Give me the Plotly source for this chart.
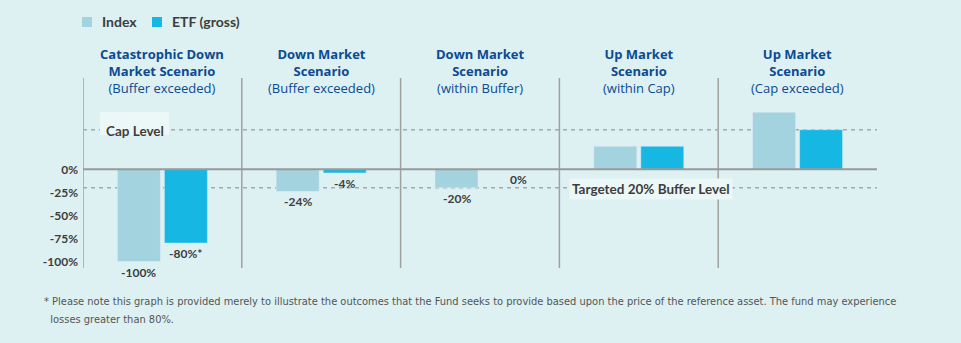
import plotly.graph_objects as go

# ---- data ----
scenarios = [
    "<b>Catastrophic Down</b><br><b>Market Scenario</b><br>(Buffer exceeded)",
    "<b>Down Market</b><br><b>Scenario</b><br>(Buffer exceeded)",
    "<b>Down Market</b><br><b>Scenario</b><br>(within Buffer)",
    "<b>Up Market</b><br><b>Scenario</b><br>(within Cap)",
    "<b>Up Market</b><br><b>Scenario</b><br>(Cap exceeded)",
]
series_names = ["Index", "ETF (gross)"]
index_values = [-100, -24, -20, 25, 62]
etf_values = [-80, -4, 0, 25, 43]
index_labels = ["-100%", "-24%", "-20%", "", ""]
etf_labels = ["-80%*", "-4%", "0%", "", ""]
cap_level = 43
buffer_level = -20
tick_vals = [0, -25, -50, -75, -100]
tick_text = ["0%", "-25%", "-50%", "-75%", "-100%"]
footnote_lines = [
    "* Please note this graph is provided merely to illustrate the outcomes that the Fund seeks to provide "
    "based upon the price of the reference asset. The fund may experience",
    "  losses greater than 80%.",
]

BG = "#ddf0f2"
C_INDEX = "#a2d3de"
C_ETF = "#17b7e3"
NAVY = "#0c4a92"
DARK = "#3d3d3d"
GRID = "#a0a0a0"
BOX = "#ecf7f8"
FONT = "Lato"
HFONT = "Open Sans"

# plot-area geometry in pixels (for paper-coordinate helpers)
W, H = 961, 343
L, R, T, B = 83, 84, 78, 75
PW, PH = W - L - R, H - T - B


def px(xp):
    return (xp - L) / PW


def py(yp):
    return (H - B - yp) / PH


xs = list(range(len(scenarios)))

fig = go.Figure()
fig.add_trace(go.Bar(x=xs, y=index_values, name=series_names[0], marker_color=C_INDEX, showlegend=False))
fig.add_trace(go.Bar(x=xs, y=etf_values, name=series_names[1], marker_color=C_ETF, showlegend=False))

# vertical separators
for i in xs:
    fig.add_shape(type="line", xref="x", yref="paper", x0=i - 0.5, x1=i - 0.5, y0=0, y1=1,
                  line=dict(color=GRID, width=1.5), layer="below")
# zero line
fig.add_shape(type="line", xref="x", yref="y", x0=-0.5, x1=len(xs) - 0.5, y0=0, y1=0,
              line=dict(color="#999999", width=2))
# cap and buffer lines
for lv in (cap_level, buffer_level):
    fig.add_shape(type="line", xref="x", yref="y", x0=-0.5, x1=len(xs) - 0.5, y0=lv, y1=lv,
                  line=dict(color="#a8a8a8", width=1.5, dash="4px,4px"), layer="below")

# legend (manual)
for name, color, sx in zip(series_names, [C_INDEX, C_ETF], [82, 152]):
    fig.add_shape(type="rect", xref="paper", yref="paper", x0=px(sx), x1=px(sx + 10),
                  y0=py(27), y1=py(17), fillcolor=color, line=dict(width=0))
    fig.add_annotation(x=px(sx + 18), y=py(22), xref="paper", yref="paper", text=name,
                       showarrow=False, xanchor="left", yanchor="middle",
                       font=dict(family=FONT, size=14, color=DARK, weight="bold"))

# headers
for i, s in enumerate(scenarios):
    fig.add_annotation(x=i, y=1.037, xref="x", yref="paper", text=s, showarrow=False,
                       yanchor="middle", font=dict(family=HFONT, size=13, color=NAVY))

# bar value labels
half = 23.5
for i in xs:
    if index_labels[i]:
        fig.add_annotation(x=i, y=index_values[i], xref="x", yref="y", text=index_labels[i],
                           showarrow=False, xshift=-half, yanchor="top", yshift=-1,
                           font=dict(family=FONT, size=12, color=DARK, weight="bold"))
    if etf_labels[i]:
        extra = 15 if etf_values[i] == 0 else 0
        fig.add_annotation(x=i, y=etf_values[i], xref="x", yref="y", text=etf_labels[i],
                           showarrow=False, xshift=half + extra, yanchor="top", yshift=-1,
                           font=dict(family=FONT, size=12, color=DARK, weight="bold"))

# level labels
fig.add_shape(type="rect", xref="paper", yref="paper", x0=px(100), x1=px(169), y0=py(135), y1=py(112),
              fillcolor=BOX, line=dict(width=0), layer="above")
fig.add_annotation(x=px(134.5), y=cap_level, xref="paper", yref="y", text="Cap Level",
                   showarrow=False, xanchor="center", yanchor="middle", yshift=-1,
                   font=dict(family=FONT, size=13.5, color=DARK, weight="bold"))
fig.add_annotation(x=px(650.5), y=buffer_level, xref="paper", yref="y", text="Targeted 20% Buffer Level",
                   showarrow=False, xanchor="center", yanchor="middle", yshift=-1,
                   bgcolor=BOX, borderpad=2,
                   font=dict(family=FONT, size=13.5, color=DARK, weight="bold"))

# footnote
for k, line in enumerate(footnote_lines):
    fig.add_annotation(x=px(42), y=py(301 + 18 * k), xref="paper", yref="paper",
                       text=line.replace("  ", "&nbsp;&nbsp;"), showarrow=False, align="left",
                       xanchor="left", yanchor="middle",
                       font=dict(family="DejaVu Sans Condensed, DejaVu Sans", size=11, color="#555555"))

fig.update_layout(
    width=W, height=H,
    margin=dict(l=L, r=R, t=T, b=B, autoexpand=False),
    paper_bgcolor=BG, plot_bgcolor=BG,
    barmode="group", bargap=0.408, bargroupgap=0.085,
    font=dict(family=FONT, color=DARK),
    showlegend=False,
    xaxis=dict(range=[-0.5, len(xs) - 0.5], showticklabels=False, showgrid=False,
               zeroline=False, showline=False, fixedrange=True),
    yaxis=dict(range=[-107, 99], tickvals=tick_vals, ticktext=tick_text, showgrid=False,
               zeroline=False, showline=False, ticks="", ticklabelstandoff=4,
               tickfont=dict(family=FONT, size=12, color=DARK, weight="bold"), fixedrange=True),
)

fig.write_html("out.html")
